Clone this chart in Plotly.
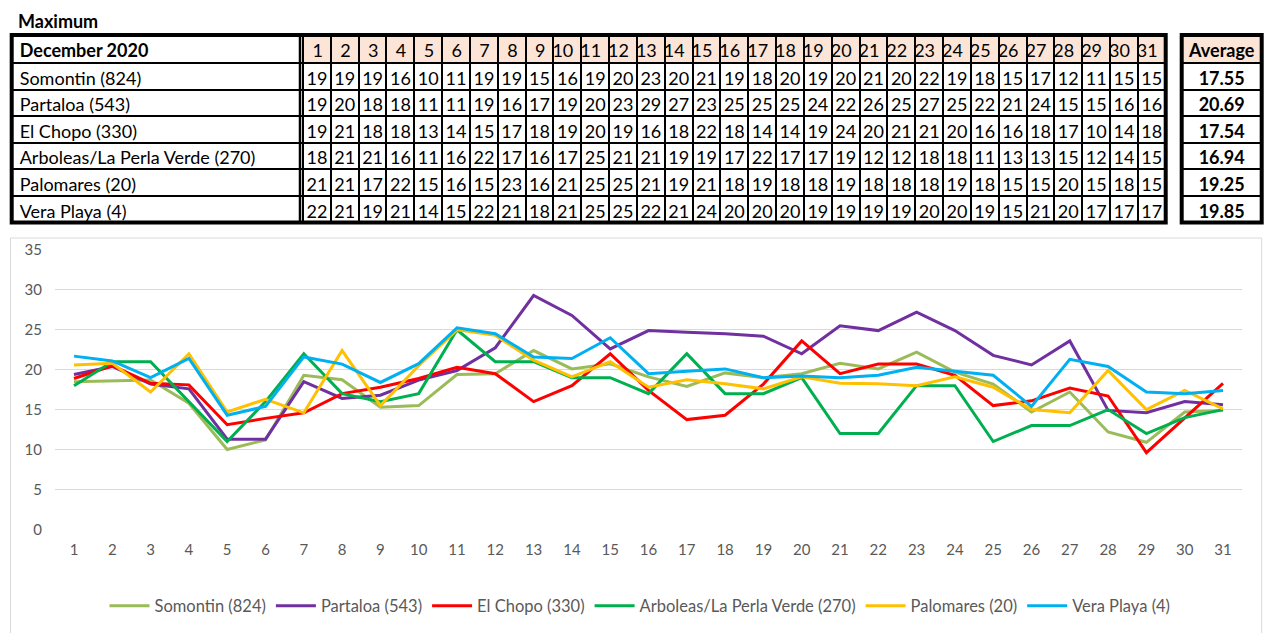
import plotly.graph_objects as go

# page body has an 8px margin, so the figure is sized to fill the rest of the window
OFF = 8
W, H = 1280 - 2 * OFF, 641 - 2 * OFF

# ---------------- data ----------------
days = list(range(1, 32))
stations = ["Somontin (824)", "Partaloa (543)", "El Chopo (330)",
            "Arboleas/La Perla Verde (270)", "Palomares (20)", "Vera Playa (4)"]
colors = ["#9BBB59", "#7030A0", "#FF0000", "#00B050", "#FFC000", "#00B0F0"]

# values shown in the table (rounded daily maxima)
tab_somontin = [19,19,19,16,10,11,19,19,15,16,19,20,23,20,21,19,18,20,19,20,21,20,22,19,18,15,17,12,11,15,15]
tab_partaloa = [19,20,18,18,11,11,19,16,17,19,20,23,29,27,23,25,25,25,24,22,26,25,27,25,22,21,24,15,15,16,16]
tab_elchopo  = [19,21,18,18,13,14,15,17,18,19,20,19,16,18,22,18,14,14,19,24,20,21,21,20,16,16,18,17,10,14,18]
tab_arboleas = [18,21,21,16,11,16,22,17,16,17,25,21,21,19,19,17,22,17,17,19,12,12,18,18,11,13,13,15,12,14,15]
tab_palomares= [21,21,17,22,15,16,15,23,16,21,25,25,21,19,21,18,19,18,18,19,18,18,18,19,18,15,15,20,15,18,15]
tab_vera     = [22,21,19,21,14,15,22,21,18,21,25,25,22,21,24,20,20,20,19,19,19,19,20,20,19,15,21,20,17,17,17]
averages = ["17.55", "20.69", "17.54", "16.94", "19.25", "19.85"]

# values plotted in the chart
somontin  = [18.5,18.6,18.7,15.8,10.0,11.2,19.3,18.75,15.3,15.5,19.4,19.5,22.4,20.1,20.75,19.1,17.9,19.6,19.0,19.5,20.8,20.1,22.2,19.7,18.2,14.7,17.2,12.2,10.9,14.7,14.9]
partaloa  = [19.4,20.4,18.2,17.6,11.3,11.3,18.5,16.4,16.8,18.7,19.9,22.75,29.3,26.8,22.6,24.9,24.7,24.5,24.2,22.0,25.5,24.9,27.2,24.9,21.8,20.6,23.6,14.9,14.6,16.0,15.6]
elchopo   = [18.9,20.5,18.3,18.1,13.1,13.9,14.6,17.0,17.8,18.9,20.3,19.5,16.0,18.0,22.0,17.4,13.75,14.3,18.2,23.6,19.5,20.7,20.7,19.3,15.5,16.1,17.7,16.7,9.6,13.9,18.3]
arboleas  = [18,21,21,16,11,16,22,17,16,17,25,21,21,19,19,17,22,17,17,19,12,12,18,18,11,13,13,15,12,14,15]
palomares = [20.6,20.8,17.2,22.0,14.7,16.3,14.6,22.4,15.5,20.5,25.0,24.3,21.2,19.1,21.0,17.8,18.75,18.25,17.6,19.1,18.3,18.25,18.0,19.1,17.8,15.0,14.6,19.9,15.0,17.4,15.1]
vera      = [21.7,21.1,19.0,21.4,14.3,15.4,21.6,20.7,18.4,20.75,25.25,24.5,21.6,21.4,24.0,19.5,19.8,20.1,19.0,19.2,19.0,19.3,20.3,19.8,19.3,15.4,21.3,20.4,17.2,17.0,17.4]

table_rows = [tab_somontin, tab_partaloa, tab_elchopo, tab_arboleas, tab_palomares, tab_vera]
series = [somontin, partaloa, elchopo, arboleas, palomares, vera]

# ---------------- helpers (window pixel -> paper) ----------------
def px(x):
    return (x - OFF) / W

def py(y):
    return 1 - (y - OFF) / H

FONT = "Lato, 'Open Sans', sans-serif"
PEACH = "#FCE4D6"

fig = go.Figure()

# ---------------- main table ----------------
t_left, t_right, t_top = 11.7, 1165.7, 35
lab_right = 303.0
hdr_h, row_h = 28, 26.6
t_bottom = t_top + hdr_h + 6 * row_h
day_w = (t_right - lab_right) / 31

header_vals = ["December 2020"] + [str(d) for d in days]
cell_cols = [stations] + [[row[i] for row in table_rows] for i in range(31)]

fig.add_trace(go.Table(
    domain=dict(x=[px(t_left), px(t_right)], y=[py(t_bottom + 12), py(t_top)]),
    columnwidth=[lab_right - t_left] + [day_w] * 31,
    header=dict(values=header_vals,
                fill=dict(color=["white"] + [PEACH] * 31),
                line=dict(color="black", width=2),
                align=["left"] + ["right"] * 31,
                font=dict(family=FONT, size=18, color="black",
                          weight=["bold"] + ["normal"] * 31),
                height=hdr_h),
    cells=dict(values=cell_cols,
               fill=dict(color="white"),
               line=dict(color="black", width=2),
               align=["left"] + ["center"] * 31,
               font=dict(family=FONT, size=18, color="black"),
               height=row_h),
))

# ---------------- average table ----------------
a_left, a_right = 1181.7, 1261.7
fig.add_trace(go.Table(
    domain=dict(x=[px(a_left), px(a_right)], y=[py(t_bottom + 12), py(t_top)]),
    header=dict(values=["Average"],
                fill=dict(color=PEACH),
                line=dict(color="black", width=2),
                align="center",
                font=dict(family=FONT, size=18, color="black", weight="bold"),
                height=hdr_h),
    cells=dict(values=[averages],
               fill=dict(color="white"),
               line=dict(color="black", width=2),
               align="center",
               font=dict(family=FONT, size=18, color="black", weight="bold"),
               height=row_h),
))

# ---------------- line chart ----------------
for name, vals, col in zip(stations, series, colors):
    fig.add_trace(go.Scatter(x=days, y=vals, name=name, mode="lines",
                             line=dict(color=col, width=3)))

shapes = [
    # chart frame
    dict(type="rect", xref="paper", yref="paper",
         x0=px(10.5), x1=px(1261.7), y0=py(634), y1=py(238),
         line=dict(color="#D9D9D9", width=1), layer="below"),
    # thick outer borders of the tables
    dict(type="rect", xref="paper", yref="paper",
         x0=px(t_left), x1=px(t_right), y0=py(t_bottom), y1=py(t_top),
         line=dict(color="black", width=4), layer="above"),
    dict(type="rect", xref="paper", yref="paper",
         x0=px(a_left), x1=px(a_right), y0=py(t_bottom), y1=py(t_top),
         line=dict(color="black", width=4), layer="above"),
    # double rule between the name column and the day columns
    dict(type="line", xref="paper", yref="paper",
         x0=px(lab_right - 3), x1=px(lab_right - 3), y0=py(t_bottom), y1=py(t_top),
         line=dict(color="black", width=2.5), layer="above"),
]

fig.update_layout(
    width=W, height=H,
    margin=dict(l=0, r=0, t=0, b=0, autoexpand=False),
    paper_bgcolor="white", plot_bgcolor="white",
    font=dict(family=FONT, color="#595959"),
    shapes=shapes,
    annotations=[dict(text="Maximum", xref="paper", yref="paper",
                      x=px(16), y=py(21), xanchor="left", yanchor="middle",
                      showarrow=False,
                      font=dict(family=FONT, size=18, color="black", weight="bold"))],
    xaxis=dict(domain=[px(54.85), px(1242.15)], range=[0.5, 31.5],
               tickmode="array", tickvals=days, ticktext=[str(d) for d in days],
               showgrid=False, zeroline=False, showline=False, ticks="",
               tickfont=dict(size=15, color="#595959"), ticklabelstandoff=10),
    yaxis=dict(domain=[py(529.3), py(250)], range=[0, 35], dtick=5,
               showgrid=True, gridcolor="#D9D9D9", gridwidth=1,
               zeroline=False, showline=False, ticks="",
               tickfont=dict(size=15, color="#595959"), ticklabelstandoff=12),
    legend=dict(orientation="h", x=px(640), xanchor="center", y=py(606), yanchor="middle",
                font=dict(size=16.5, color="#595959"), bgcolor="rgba(0,0,0,0)",
                itemwidth=40),
    showlegend=True,
)

fig.write_html("out.html")
